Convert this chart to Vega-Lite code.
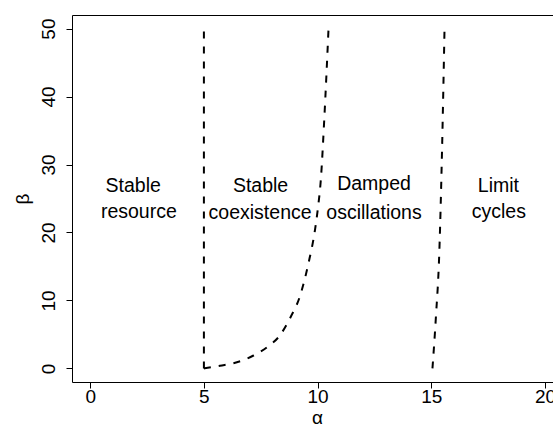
{
  "$schema": "https://vega.github.io/schema/vega-lite/v6.json",
  "width": 481,
  "height": 367,
  "autosize": "none",
  "padding": {"left": 72, "top": 15, "right": 0, "bottom": 45},
  "background": "white",
  "config": {"view": {"stroke": null}, "font": "Liberation Sans"},
  "datasets": {
    "lines": [
      {"alpha": 5, "beta": 0, "curve": "a"},
      {"alpha": 5, "beta": 50, "curve": "a"},
      {"alpha": 5, "beta": 0, "curve": "b"},
      {"alpha": 5.71, "beta": 0.4, "curve": "b"},
      {"alpha": 6.45, "beta": 0.9, "curve": "b"},
      {"alpha": 7.18, "beta": 1.9, "curve": "b"},
      {"alpha": 7.77, "beta": 3.1, "curve": "b"},
      {"alpha": 8.35, "beta": 4.9, "curve": "b"},
      {"alpha": 8.82, "beta": 7.6, "curve": "b"},
      {"alpha": 9.2, "beta": 10.4, "curve": "b"},
      {"alpha": 9.6, "beta": 15.5, "curve": "b"},
      {"alpha": 9.89, "beta": 20.5, "curve": "b"},
      {"alpha": 10.01, "beta": 23.5, "curve": "b"},
      {"alpha": 10.14, "beta": 27.7, "curve": "b"},
      {"alpha": 10.29, "beta": 36.5, "curve": "b"},
      {"alpha": 10.48, "beta": 50, "curve": "b"},
      {"alpha": 15.05, "beta": 0, "curve": "c"},
      {"alpha": 15.2, "beta": 7.5, "curve": "c"},
      {"alpha": 15.35, "beta": 17, "curve": "c"},
      {"alpha": 15.47, "beta": 32, "curve": "c"},
      {"alpha": 15.58, "beta": 50, "curve": "c"}
    ],
    "labels": [
      {"alpha": 1.89, "beta": 25.9, "label": "Stable"},
      {"alpha": 2.14, "beta": 22.2, "label": "resource"},
      {"alpha": 7.49, "beta": 25.9, "label": "Stable"},
      {"alpha": 7.47, "beta": 22.0, "label": "coexistence"},
      {"alpha": 12.48, "beta": 26.2, "label": "Damped"},
      {"alpha": 12.48, "beta": 22.0, "label": "oscillations"},
      {"alpha": 17.95, "beta": 25.9, "label": "Limit"},
      {"alpha": 17.97, "beta": 22.2, "label": "cycles"}
    ]
  },
  "layer": [
    {
      "data": {"name": "lines"},
      "mark": {"type": "line", "color": "black", "strokeWidth": 2, "strokeDash": [7, 8], "interpolate": "monotone", "clip": true},
      "encoding": {
        "x": {
          "field": "alpha", "type": "quantitative",
          "scale": {"domain": [-0.8, 20.35], "nice": false, "zero": false},
          "axis": {
            "orient": "bottom", "values": [0, 5, 10, 15, 20], "grid": false,
            "tickSize": 6, "tickColor": "black", "domainColor": "black",
            "labelFontSize": 19, "labelColor": "black", "labelPadding": -1,
            "labelFlush": false, "labelOverlap": false, "labelBound": false,
            "title": "α", "titleFontSize": 19, "titleFontWeight": "normal", "titleColor": "black",
            "titleX": 245, "titleY": 41.5, "titleBaseline": "alphabetic", "titleAlign": "center"
          }
        },
        "y": {
          "field": "beta", "type": "quantitative",
          "scale": {"domain": [-2, 52], "nice": false, "zero": false},
          "axis": {
            "orient": "left", "values": [0, 10, 20, 30, 40, 50], "grid": false,
            "tickSize": 6, "tickColor": "black", "domainColor": "black",
            "labelFontSize": 19, "labelColor": "black", "labelAngle": 270, "labelPadding": 8,
            "labelFlush": false, "labelOverlap": false,
            "title": "β", "titleFontSize": 19, "titleFontWeight": "normal", "titleColor": "black",
            "titleX": -44, "titleY": 183.5, "titleAngle": 270, "titleBaseline": "alphabetic", "titleAlign": "center"
          }
        },
        "detail": {"field": "curve"}
      }
    },
    {
      "data": {"name": "labels"},
      "mark": {"type": "text", "fontSize": 19.5, "font": "Liberation Sans", "baseline": "alphabetic", "align": "center", "color": "black"},
      "encoding": {
        "x": {
          "field": "alpha", "type": "quantitative",
          "axis": {"orient": "top", "labels": false, "ticks": false, "title": null, "grid": false, "domainColor": "black"}
        },
        "y": {"field": "beta", "type": "quantitative"},
        "text": {"field": "label"}
      }
    }
  ],
  "resolve": {"axis": {"x": "independent"}}
}
